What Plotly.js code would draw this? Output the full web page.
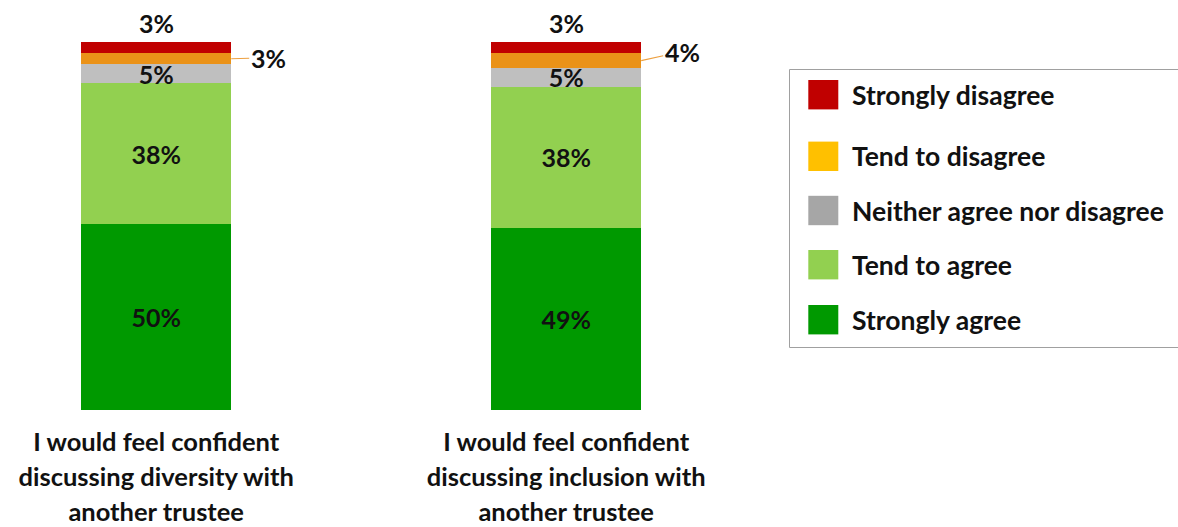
<!DOCTYPE html>
<html><head><meta charset="utf-8">
<script src="https://cdn.plot.ly/plotly-3.0.1.min.js"></script>
<style>html,body{margin:0;padding:0;background:#fff}#chart{width:1178px;height:527px}</style>
</head><body><div id="chart"></div>
<script>
// ---- data ----
const categories = [
  "I would feel confident<br>discussing diversity with<br>another trustee",
  "I would feel confident<br>discussing inclusion with<br>another trustee"
];
const responses = ["Strongly agree", "Tend to agree", "Neither agree nor disagree", "Tend to disagree", "Strongly disagree"];
const stronglyAgree    = [50, 49];
const tendToAgree      = [38, 38];
const neitherNor       = [5, 5];
const tendToDisagree   = [3, 4];
const stronglyDisagree = [3, 3];

// ---- styling ----
const barColors    = ["#009900", "#92D050", "#BFBFBF", "#EA9218", "#C00000"];
const legendColors = ["#009900", "#92D050", "#A6A6A6", "#FFC000", "#C00000"];
const FONT = "Lato, 'Open Sans', 'Liberation Sans', sans-serif";
const W = 1178, H = 527, PLOT_BOTTOM = 410;
const BAR_SPACING_PX = 410, FIRST_CENTER_PX = 156.2, BAR_WIDTH_PX = 150;
const PX_PER_PCT = 3.717;
const LABEL_SIZE = 25;

const series = [stronglyAgree, tendToAgree, neitherNor, tendToDisagree, stronglyDisagree];
const insideLabel = [true, true, true, false, false];
const xPos = categories.map((_, i) => i);
const barWidth = BAR_WIDTH_PX / BAR_SPACING_PX;

const traces = series.map((vals, s) => ({
  type: "bar",
  name: responses[s],
  x: xPos,
  y: vals,
  width: barWidth,
  marker: { color: barColors[s], line: { width: 0 } },
  text: vals.map(v => insideLabel[s] ? v + "%" : ""),
  textposition: "inside",
  insidetextanchor: "middle",
  textangle: 0,
  constraintext: "none",
  textfont: { family: FONT, size: LABEL_SIZE, color: "#111", weight: 700 },
  hoverinfo: "name+y",
  showlegend: false
}));

// ---- annotations from data ----
const annotations = [];
const totals = xPos.map(i => series.reduce((a, s) => a + s[i], 0));
xPos.forEach(i => {
  // Strongly disagree label above bar
  annotations.push({
    x: i, y: totals[i], xref: "x", yref: "y",
    text: stronglyDisagree[i] + "%", showarrow: false,
    yanchor: "middle", yshift: 19,
    font: { family: FONT, size: LABEL_SIZE, color: "#111", weight: 700 }
  });
  // Tend to disagree label with leader line
  const below = stronglyAgree[i] + tendToAgree[i] + neitherNor[i];
  const offs = [[37, -1], [41, -9]][i];
  annotations.push({
    x: i + barWidth / 2, y: below + tendToDisagree[i] / 2, xref: "x", yref: "y",
    text: tendToDisagree[i] + "%", showarrow: true, arrowhead: 0, arrowwidth: 1.2,
    arrowcolor: "#EDA040", ax: offs[0], ay: offs[1], standoff: 0,
    font: { family: FONT, size: LABEL_SIZE, color: "#111", weight: 700 }
  });
});

// ---- manual legend (large swatches) ----
const px2x = p => p / W;
const py2y = p => (PLOT_BOTTOM - p) / PLOT_BOTTOM;
const shapes = [{
  type: "rect", xref: "paper", yref: "paper",
  x0: px2x(789.5), x1: px2x(1190), y0: py2y(69.5), y1: py2y(347.5),
  line: { color: "#A0A0A0", width: 1 }, fillcolor: "rgba(0,0,0,0)"
}];
const legendRowsPx = [94.7, 156.3, 210.5, 264.7, 319.7];
const legendOrder = [4, 3, 2, 1, 0];
legendOrder.forEach((s, r) => {
  const cy = legendRowsPx[r];
  shapes.push({
    type: "rect", xref: "paper", yref: "paper",
    x0: px2x(808.3), x1: px2x(838.3), y0: py2y(cy - 14.7), y1: py2y(cy + 14.7),
    line: { width: 0 }, fillcolor: legendColors[s]
  });
  annotations.push({
    xref: "paper", yref: "paper", x: px2x(850), y: py2y(cy),
    xanchor: "left", yanchor: "middle", showarrow: false,
    text: responses[s],
    font: { family: FONT, size: 26.5, color: "#111", weight: 700 }
  });
});

const tickText = categories.map(c => c.split("<br>").map(l => '<span style="font-size:25.5px">' + l + '</span>').join("<br>"));

const layout = {
  width: W, height: H,
  margin: { l: 0, r: 0, t: 0, b: H - PLOT_BOTTOM, pad: 0 },
  paper_bgcolor: "#fff", plot_bgcolor: "#fff",
  barmode: "stack",
  showlegend: false,
  font: { family: FONT, color: "#111" },
  xaxis: {
    range: [-FIRST_CENTER_PX / BAR_SPACING_PX, (W - FIRST_CENTER_PX) / BAR_SPACING_PX],
    tickvals: xPos, ticktext: tickText,
    tickfont: { family: FONT, size: 27, color: "#111", weight: 700 },
    ticks: "", showline: false, showgrid: false, zeroline: false,
    ticklabelstandoff: 13, fixedrange: true
  },
  yaxis: {
    range: [0, PLOT_BOTTOM / PX_PER_PCT],
    visible: false, fixedrange: true
  },
  annotations: annotations,
  shapes: shapes
};

Plotly.newPlot("chart", traces, layout, { displayModeBar: false, staticPlot: true });
</script>
</body></html>
